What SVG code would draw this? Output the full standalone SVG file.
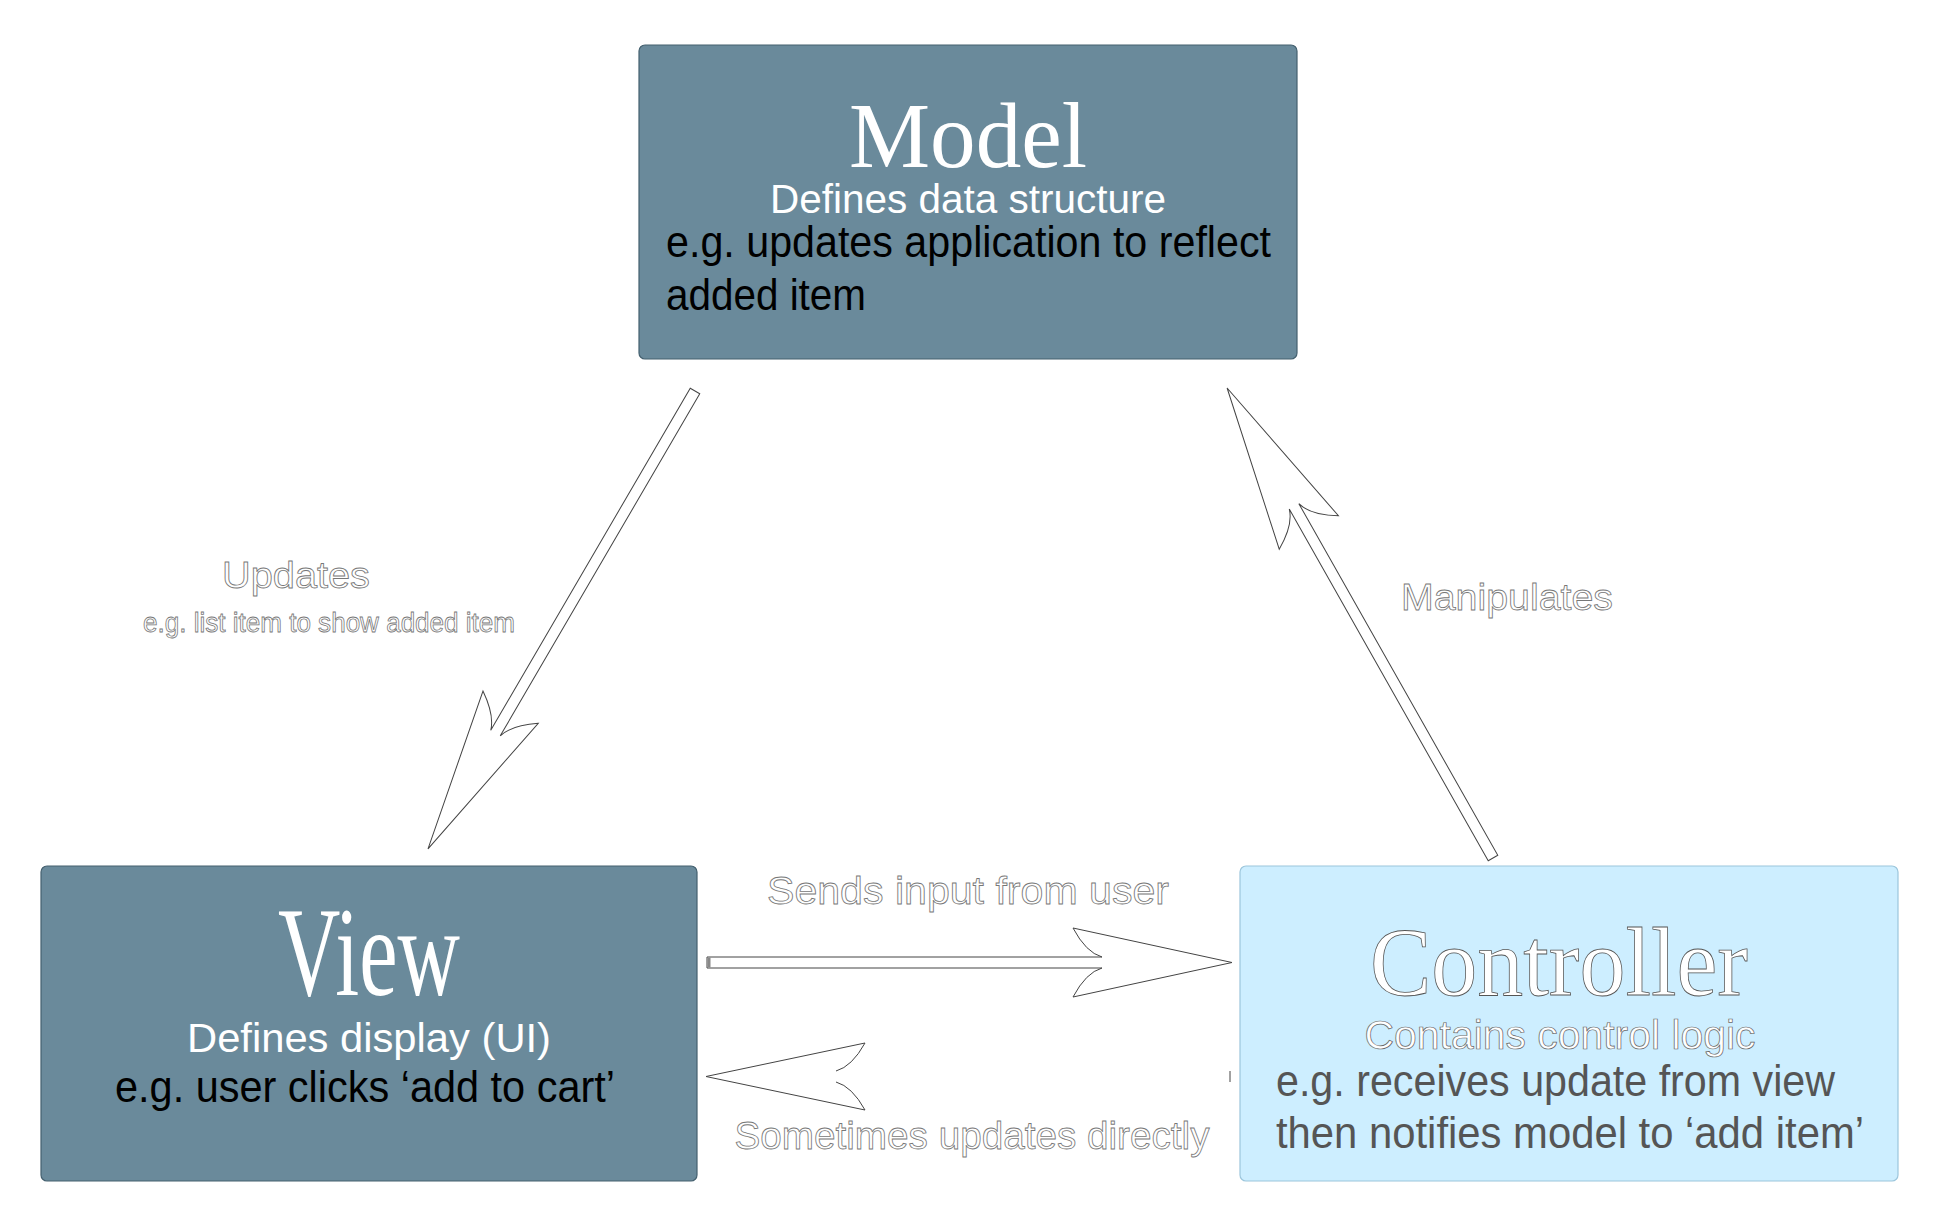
<svg xmlns="http://www.w3.org/2000/svg" width="1939" height="1217" viewBox="0 0 1939 1217">
<style>
.box-dark{fill:#6a8a9b;stroke:#44606f;stroke-width:1.2}
.box-light{fill:#cdeeff;stroke:#9cc6dc;stroke-width:1.2}
.title{font-family:"Liberation Serif","Times New Roman",serif;fill:#ffffff;text-anchor:middle}
.title-ol{stroke:#555;stroke-width:0.8}
.sub{font-family:"Liberation Sans",Arial,sans-serif;font-size:40px;fill:#ffffff;text-anchor:middle}
.sub-ol{stroke:#666;stroke-width:0.7}
.ex{font-family:"Liberation Sans",Arial,sans-serif;font-size:44px;fill:#000000}
.ex-grey{fill:#555555}
.lbl{font-family:"Liberation Sans",Arial,sans-serif;fill:#ffffff;stroke:#777;stroke-width:0.8;text-anchor:middle}
.arrow{fill:#ffffff;stroke:#444;stroke-width:1;stroke-linejoin:miter}
.arrow-open{fill:none;stroke:#444;stroke-width:1}
</style>
<rect width="1939" height="1217" fill="#ffffff"/>

<g id="connectors">
  <!-- Model -> View (Updates) -->
  <g id="edge-model-view" transform="translate(695,391) rotate(120.25)">
    <path class="arrow" d="M0,-5.5 L396,-5.5 Q381,-10 366,-32 L530,0 L366,32 Q381,10 396,5.5 L0,5.5 Z"/>
  </g>
  <!-- Controller -> Model (Manipulates) -->
  <g id="edge-controller-model" transform="translate(1493,858) rotate(-119.5)">
    <path class="arrow" d="M0,-5.5 L404,-5.5 Q388,-10 374,-34 L540,0 L374,34 Q388,10 404,5.5 L0,5.5 Z"/>
  </g>
  <!-- View -> Controller (Sends input from user) -->
  <g id="edge-view-controller" transform="translate(707,962.5)">
    <path class="arrow" d="M0,-5.5 L395,-5.5 Q379,-10 366,-34.5 L525,0 L366,34.5 Q379,10 395,5.5 L0,5.5 Z"/>
    <rect x="0.5" y="-5" width="3" height="10" fill="#888"/>
  </g>
  <!-- Controller -> View (Sometimes updates directly) -->
  <g id="edge-controller-view" transform="translate(1230,1076.5) rotate(180)">
    <path class="arrow" style="stroke:none" d="M0,-5.5 L394,-5.5 Q378,-10 365,-33.5 L524,0 L365,33.5 Q378,10 394,5.5 L0,5.5 Z"/>
    <path class="arrow-open" d="M394,-5.5 Q378,-10 365,-33.5 L524,0 L365,33.5 Q378,10 394,5.5"/>
    <path class="arrow-open" d="M0,-5.5 L0,5.5" stroke="#888"/>
  </g>
  <text class="lbl" x="296" y="588" font-size="36" textLength="148" lengthAdjust="spacingAndGlyphs">Updates</text>
  <text class="lbl" x="329" y="632" font-size="27" textLength="372" lengthAdjust="spacingAndGlyphs">e.g. list item to show added item</text>
  <text class="lbl" x="1507" y="610" font-size="37" textLength="212" lengthAdjust="spacingAndGlyphs">Manipulates</text>
  <text class="lbl" x="968" y="904" font-size="38" textLength="402" lengthAdjust="spacingAndGlyphs">Sends input from user</text>
  <text class="lbl" x="972" y="1149" font-size="38" textLength="475" lengthAdjust="spacingAndGlyphs">Sometimes updates directly</text>
</g>

<g id="node-model">
  <rect class="box-dark" x="639" y="45" width="658" height="314" rx="6" ry="6"/>
  <text class="title" x="968" y="167" font-size="94" textLength="238" lengthAdjust="spacingAndGlyphs">Model</text>
  <text class="sub" x="968" y="213" textLength="396" lengthAdjust="spacingAndGlyphs">Defines data structure</text>
  <text class="ex" x="666" y="257" textLength="605" lengthAdjust="spacingAndGlyphs">e.g. updates application to reflect</text>
  <text class="ex" x="666" y="310" textLength="200" lengthAdjust="spacingAndGlyphs">added item</text>
</g>

<g id="node-view">
  <rect class="box-dark" x="41" y="866" width="656" height="315" rx="6" ry="6"/>
  <text class="title" x="369" y="995" font-size="128" textLength="182" lengthAdjust="spacingAndGlyphs">View</text>
  <text class="sub" x="369" y="1052" textLength="364" lengthAdjust="spacingAndGlyphs">Defines display (UI)</text>
  <text class="ex" x="115" y="1102" textLength="500" lengthAdjust="spacingAndGlyphs">e.g. user clicks ‘add to cart’</text>
</g>

<g id="node-controller">
  <rect class="box-light" x="1240" y="866" width="658" height="315" rx="6" ry="6"/>
  <text class="title title-ol" x="1559" y="995" font-size="98" textLength="378" lengthAdjust="spacingAndGlyphs">Controller</text>
  <text class="sub sub-ol" x="1560" y="1049" textLength="391" lengthAdjust="spacingAndGlyphs">Contains control logic</text>
  <text class="ex ex-grey" x="1276" y="1096" textLength="559" lengthAdjust="spacingAndGlyphs">e.g. receives update from view</text>
  <text class="ex ex-grey" x="1276" y="1148" textLength="588" lengthAdjust="spacingAndGlyphs">then notifies model to ‘add item’</text>
</g>
</svg>
